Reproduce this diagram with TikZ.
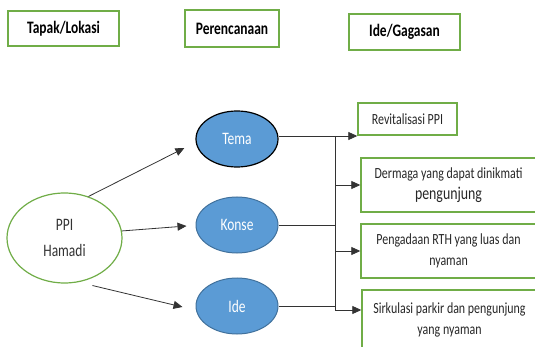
\documentclass[tikz,border=0pt]{standalone}
\usepackage{fontspec}
\setmainfont{Carlito}[FakeStretch=0.77]
\usepackage{xcolor}
\usepackage{tikz}
\usetikzlibrary{shapes.geometric, arrows.meta, positioning, calc}
\definecolor{leafgreen}{HTML}{70AD47}
\definecolor{skyblue}{HTML}{5B9BD5}
\definecolor{deepblue}{HTML}{41719C}

\begin{document}
\begin{tikzpicture}[
  x=1pt, y=-1pt,
  header/.style={draw=leafgreen, line width=1.8pt, minimum width=#1, inner sep=0pt, align=center, font=\fontsize{17.5}{20}\selectfont\bfseries},
  site/.style={draw=leafgreen, line width=1.2pt, ellipse, fill=white, minimum width=115pt, minimum height=90pt, inner sep=0pt, align=center, text=black!80, font=\fontsize{17.5}{26}\selectfont},
  plan/.style={draw=deepblue, line width=1pt, ellipse, fill=skyblue, minimum width=82pt, minimum height=56pt, inner sep=0pt, text=white, font=\fontsize{17.5}{20}\selectfont},
  idea/.style={draw=leafgreen, line width=1.4pt, minimum width=175pt, minimum height=#1, inner sep=0pt, align=center, text=black!85, font=\fontsize{15.5}{21}\selectfont},
  link/.style={draw=black!80, line width=0.8pt},
  arrow/.style={link, -{Triangle[length=9pt, width=8pt]}},
]
\useasboundingbox (0,0) rectangle (535,347);
\clip (0,0) rectangle (535,347);

% Headers
\node[header=111pt, minimum height=35pt] (tapak) at (63.5,28.5) {Tapak/Lokasi};
\node[header=94pt, minimum height=37pt] (rencana) at (232,28.5) {Perencanaan};
\node[header=111pt, minimum height=36pt] (gagasan) at (404.5,32) {Ide/Gagasan};

% Site
\node[site] (ppi) at (64.5,238) {PPI\\Hamadi};

% Planning
\node[plan, draw=black, line width=1.2pt] (tema) at (237,139) {Tema};
\node[plan] (konse) at (237,225) {Konse};
\node[plan] (ide) at (237,306) {Ide};

% Ideas
\node[idea=32pt, minimum width=99pt] (revit) at (407.5,119) {Revitalisasi PPI};
\node[idea=54pt] (dermaga) at (448.5,185) {Dermaga yang dapat dinikmati\\{\fontsize{18}{21}\selectfont pengunjung}};
\node[idea=54pt] (rth) at (448.5,251) {Pengadaan RTH yang luas dan\\nyaman};
\node[idea=60pt] (parkir) at (449.5,320) {Sirkulasi parkir dan pengunjung\\yang nyaman};

% Bus
\coordinate (busA) at (335,136);
\coordinate (busB) at (335,310);

% Arrows
\draw[arrow] (ppi.60) -- ([shift={(-11,9)}]tema.west);
\draw[arrow] (ppi.7) -- ([shift={(-9,1)}]konse.west);
\draw[arrow] ([shift={(4,6)}]ppi.-60) -- ([shift={(-13,1)}]ide.west);
\draw[link] (tema.east |- busA) -- (busA);
\draw[link] (konse.east) -- (konse.east -| busA);
\draw[link] (ide.east) -- (ide.east -| busA);
\draw[link] (busA) -- (busB);
\draw[arrow] (busA) -- (busA -| revit.west);
\draw[arrow] (busA |- dermaga.west) -- (dermaga.west);
\draw[arrow] (busA |- rth.west) -- (rth.west);
\draw[arrow] (busB) -- (busB -| parkir.west);

\end{tikzpicture}
\end{document}
